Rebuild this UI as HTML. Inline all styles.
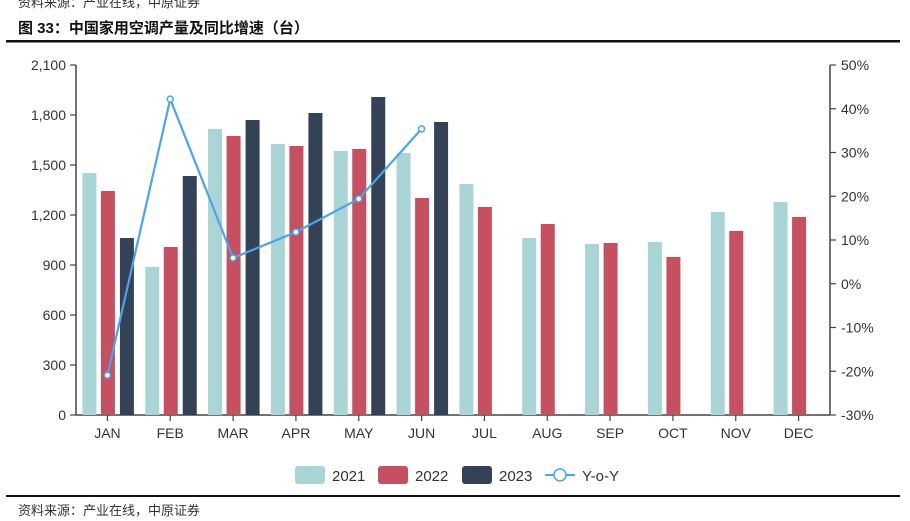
<!DOCTYPE html>
<html><head><meta charset="utf-8"><style>
body{margin:0;background:#fff;width:910px;height:521px;overflow:hidden;font-family:"Liberation Sans","Noto Sans CJK SC",sans-serif;}
svg{display:block}
</style></head><body>
<svg width="910" height="521" id="svg">
<text x="18" y="7" font-size="13" fill="#333">资料来源：产业在线，中原证券</text>
<text x="18" y="33" font-size="15" font-weight="bold" fill="#111">图 33：中国家用空调产量及同比增速（台）</text>
<rect x="6" y="40" width="894" height="2.5" fill="#111"/>
<rect x="6" y="495" width="894" height="2" fill="#111"/>
<text x="18" y="515" font-size="13" fill="#333">资料来源：产业在线，中原证券</text>
<g id="plot"></g>
<g>
<rect x="295" y="466" width="30" height="18" rx="3" fill="#a9d5d6"/>
<text x="332" y="481" font-size="15" fill="#333">2021</text>
<rect x="378" y="466" width="30" height="18" rx="3" fill="#c64f60"/>
<text x="415" y="481" font-size="15" fill="#333">2022</text>
<rect x="462" y="466" width="30" height="18" rx="3" fill="#344258"/>
<text x="499" y="481" font-size="15" fill="#333">2023</text>
<line x1="545" y1="475" x2="575" y2="475" stroke="#4aa5ea" stroke-width="2"/>
<circle cx="560" cy="475" r="6" fill="#fff" stroke="#4aa5ea" stroke-width="1.5"/>
<text x="582" y="481" font-size="15" fill="#333">Y-o-Y</text>
</g>
</svg>
<script>
const categories=["JAN","FEB","MAR","APR","MAY","JUN","JUL","AUG","SEP","OCT","NOV","DEC"];
const s2021=[1452,888,1716,1626,1584,1572,1386,1062,1026,1038,1218,1278];
const s2022=[1344,1008,1674,1614,1596,1302,1248,1146,1032,948,1104,1188];
const s2023=[1062,1434,1770,1812,1908,1758,null,null,null,null,null,null];
const yoy=[-20.9,42.2,5.9,11.8,19.4,35.4];
const leftTicks=[0,300,600,900,1200,1500,1800,2100];
const leftTickLabels=["0","300","600","900","1,200","1,500","1,800","2,100"];
const rightTicks=[-30,-20,-10,0,10,20,30,40,50];
const rightTickLabels=["-30%","-20%","-10%","0%","10%","20%","30%","40%","50%"];
const NS="http://www.w3.org/2000/svg";
const g=document.getElementById('plot');
const X0=76,X1=830,Y0=415,Y1=65;
const bw=(X1-X0)/categories.length;
const yL=v=>Y0-(v/2100)*(Y0-Y1);
const yR=v=>Y0-((v+30)/80)*(Y0-Y1);
const xC=i=>X0+bw*(i+0.5);
function mk(t,a){const e=document.createElementNS(NS,t);for(const k in a)e.setAttribute(k,a[k]);g.appendChild(e);return e;}
let e;
e=mk('line',{x1:X0,y1:Y1,x2:X0,y2:Y0,stroke:'#444','stroke-width':1.5});

e=mk('line',{x1:X1,y1:Y1,x2:X1,y2:Y0,stroke:'#444','stroke-width':1.5});

e=mk('line',{x1:X0,y1:Y0,x2:X1,y2:Y0,stroke:'#444','stroke-width':1.5});

leftTicks.forEach((v,i)=>{
 e=mk('line',{x1:X0-6,y1:yL(v),x2:X0,y2:yL(v),stroke:'#444','stroke-width':1.2});
 
 e=mk('text',{x:X0-10,y:yL(v)+5,'font-size':14,'text-anchor':'end',fill:'#333'});e.textContent=leftTickLabels[i];
 
});
rightTicks.forEach((v,i)=>{
 e=mk('line',{x1:X1,y1:yR(v),x2:X1+6,y2:yR(v),stroke:'#444','stroke-width':1.2});
 
 e=mk('text',{x:X1+11,y:yR(v)+5,'font-size':14,fill:'#333'});e.textContent=rightTickLabels[i];
 
});
const series=[[s2021,'#a9d5d6','2021',-25],[s2022,'#c64f60','2022',-6.5],[s2023,'#344258','2023',12.5]];
categories.forEach((c,i)=>{
 const cx=xC(i);
 e=mk('line',{x1:cx,y1:Y0,x2:cx,y2:Y0+6,stroke:'#444','stroke-width':1.2});
 
 e=mk('text',{x:cx,y:Y0+23,'font-size':14,'text-anchor':'middle',fill:'#333'});e.textContent=c;
 
 series.forEach(([arr,col,name,off])=>{
  const v=arr[i]; if(v==null)return;
  e=mk('rect',{x:cx+off,y:yL(v),width:14,height:Y0-yL(v),fill:col});
  
 });
});
e=mk('polyline',{points:yoy.map((v,i)=>xC(i)+','+yR(v)).join(' '),fill:'none',stroke:'#4aa5ea','stroke-width':2.2});

yoy.forEach((v,i)=>{
 e=mk('circle',{cx:xC(i),cy:yR(v),r:3,fill:'#fff',stroke:'#4aa5ea','stroke-width':1.5});
 
});
</script>
</body></html>
